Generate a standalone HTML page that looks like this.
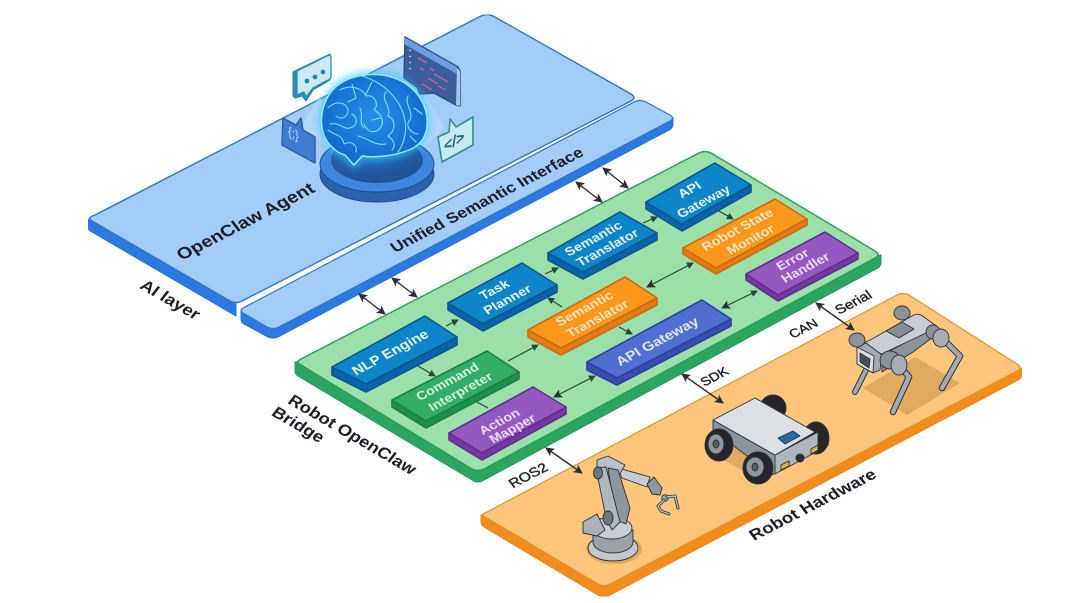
<!DOCTYPE html>
<html><head><meta charset="utf-8"><style>
html,body{margin:0;padding:0;background:#fff}
svg{display:block}
text{font-family:"Liberation Sans",sans-serif}
.w{fill:#e8f4fa;font-weight:700;font-size:12px;text-anchor:middle}
.k{fill:#1c1f26;font-weight:700;text-anchor:middle}
.a{stroke:#2a2f33;stroke-width:1.4;fill:none;marker-start:url(#m);marker-end:url(#m)}
.s{stroke:#24483a;stroke-width:1.2;fill:none;marker-end:url(#n)}
.g{stroke:#2c3138;stroke-width:.9;stroke-linejoin:round}
.l{fill:none;stroke-linecap:round;stroke-linejoin:round}
</style></head><body>
<svg width="1080" height="603" viewBox="0 0 1080 603" xmlns="http://www.w3.org/2000/svg">
<defs>
<marker id="m" markerWidth="10" markerHeight="10" refX="8" refY="4.5" orient="auto-start-reverse" markerUnits="userSpaceOnUse"><path d="M0 0L9 4.5L0 9L2 4.5Z" fill="#2a2f33"/></marker>
<marker id="n" markerWidth="8" markerHeight="8" refX="6" refY="3.5" orient="auto" markerUnits="userSpaceOnUse"><path d="M0 0L7 3.5L0 7Z" fill="#24483a"/></marker>
<filter id="glow" x="-30%" y="-30%" width="160%" height="160%"><feGaussianBlur stdDeviation="4"/></filter>
<filter id="soft" x="0" y="0" width="100%" height="100%"><feGaussianBlur stdDeviation=".35"/></filter>
<radialGradient id="br" cx=".5" cy=".45" r=".6"><stop offset="0" stop-color="#2390ea"/><stop offset="1" stop-color="#1464cc"/></radialGradient>
<radialGradient id="ped" cx=".4" cy=".25" r=".8"><stop offset="0" stop-color="#1f80d8"/><stop offset=".6" stop-color="#235ca6"/><stop offset="1" stop-color="#21508f"/></radialGradient>
</defs>
<g filter="url(#soft)">

<!-- AI plate -->
<path d="M88 219V227Q88 230 92 232L236 316V304Z" fill="#2b7ae2" stroke="#2a6fd0"/>
<path d="M95 215L481 16Q487 13 493 16L631 94Q637 98 631 101L242 301Q236 304 230 301L92 221Q86 218 95 215Z" fill="#a2cdf9" stroke="#2f74bf" stroke-width="1.4"/>
<!-- Strip -->
<path d="M241 310V319Q241 322 244 324L268 337Q273 339 278 337L669 130Q673 128 673 124V118Z" fill="#2b7ae2" stroke="#2a6fd0"/>
<path d="M243 308L634 102Q640 99 646 102L670 115Q675 118 670 121L279 327Q273 330 267 327L243 313Q239 310 243 308Z" fill="#a2cdf9" stroke="#2f74bf" stroke-width="1.2"/>

<!-- Green plate -->
<path d="M295 362V371Q295 374 298 376L472 480Q478 484 484 480L878 268Q881 266 881 262V255Z" fill="#2aa660" stroke="#26985a"/>
<path d="M301 359L699 153Q705 150 711 153L875 251Q881 255 875 258L484 469Q478 472 472 469L301 365Q295 362 301 359Z" fill="#9bdfa9" stroke="#2a9a5a" stroke-width="1.4"/>

<!-- Orange plate -->
<path d="M481 515V522Q481 525 484 527L598 595Q604 598 610 595L1018 380Q1022 378 1022 374V368Z" fill="#f28c1c" stroke="#ec861a"/>
<path d="M487 512L897 295Q903 292 909 295L1017 364Q1023 368 1017 371L610 584Q604 587 598 584L487 518Q478 515 487 512Z" fill="#fdc67c" stroke="#e8902a" stroke-width="1.2"/>

<!-- Beams -->
<path d="M320 95L300 128L345 160ZM425 95L445 128L410 160Z" fill="#c4e0fb" opacity=".5"/>

<!-- Pedestal -->
<ellipse cx="377" cy="174" rx="57" ry="28" fill="#2a62ae" stroke="#1d4d92"/>
<ellipse cx="377" cy="164" rx="57" ry="28" fill="#3f86dc" stroke="#1d4d92"/>
<ellipse cx="377" cy="160" rx="46" ry="23" fill="url(#ped)"/>

<!-- Icons -->
<path d="M297 70L330 54L330 80L313 90L306 101L302 96L295 98L293 96V72Z" fill="#2b8fb0" stroke="#2180a2" stroke-linejoin="round"/>
<path d="M297 71L327 56Q331 54 331 58V76Q331 79 328 80L313 88L306 97L304 92L297 95Z" fill="#cdeaf3" stroke="#2b8fb0" stroke-width="1.3" stroke-linejoin="round"/>
<circle cx="307" cy="81" r="2.4" fill="#2a7ec8"/><circle cx="315" cy="77" r="2.4" fill="#2a7ec8"/><circle cx="323" cy="72" r="2.4" fill="#2a7ec8"/>
<path d="M405 37L458 67L460 71V106L456 105L434 93L420 94L417 87L404 78Z" fill="#3c5c9a" stroke="#2a4a82" stroke-width="1.4" stroke-linejoin="round"/>
<path d="M457 68L460 71V106L456 105Z" fill="#a9c8ee"/>
<path d="M404 37L457 67V74L404 44Z" fill="#6c9fe0"/>
<path d="M418 58L427 63M420 68L424 70M430 68L434 71M434 74L448 82M428 78L438 84M422 84L432 90M438 86L446 90" stroke="#e060a0" stroke-width="1.2" fill="none"/>
<path d="M409 50L411 51M409 56L411 57M409 62L411 63M409 68L411 69" stroke="#b8d4f2" stroke-width="1.2"/>
<path d="M283 118L296 125L301 118L303 130L315 137V163L282 145Z" fill="#3f7bd0" stroke="#2a5ea8" stroke-width="1.5" stroke-linejoin="round"/>
<text x="0" y="0" transform="matrix(.88 .47 0 1 288 135)" font-size="13" fill="#bfe0ff" font-family="Liberation Mono">{;}</text>
<path d="M438 137L449 132L450 119L456 127L473 117V145L442 162Z" fill="#c5eaef" stroke="#2d918f" stroke-width="1.6" stroke-linejoin="round"/>
<text transform="matrix(.88 -.47 0 1 444 152)" font-size="16" font-weight="700" fill="#25607a" font-family="Liberation Mono">&lt;/&gt;</text>

<!-- Brain -->
<path d="M333 148C318 135 318 110 331 92C342 78 362 73 382 75C404 78 421 92 426 112C430 130 424 143 411 149C396 156 376 158 362 156L354 165L345 155C341 154 337 152 333 148Z" fill="#30c8ff" opacity=".75" stroke="#30c8ff" stroke-width="5" filter="url(#glow)"/>
<path d="M333 148C318 135 318 110 331 92C342 78 362 73 382 75C404 78 421 92 426 112C430 130 424 143 411 149C396 156 376 158 362 156L354 165L345 155C341 154 337 152 333 148Z" fill="url(#br)" stroke="#8ef0ff" stroke-width="1.5"/>
<g class="l" stroke="#74e6ff" stroke-width="1.1">
<path d="M362 76C382 82 398 96 404 116C408 130 404 144 398 152"/>
<path d="M328 108C336 100 346 102 348 110C348 118 340 120 336 116M330 124C340 122 344 130 350 128C358 126 358 118 352 114"/>
<path d="M340 90C350 84 362 88 366 96C374 94 380 104 374 110C382 114 386 124 378 130C372 134 366 130 364 124"/>
<path d="M328 130C336 136 342 134 344 144C352 140 358 146 356 152"/>
<path d="M352 84L356 98L348 102M372 82L366 94"/>
<path d="M386 92C380 100 392 106 388 116C396 120 396 130 388 136C394 140 396 146 392 150"/>
<path d="M408 96C404 104 414 112 410 120C404 126 412 134 418 134M414 108L422 114M416 142L410 136"/>
<path d="M358 136C368 138 374 146 386 144M360 108C364 116 358 122 364 128M372 120L380 118"/>
</g>

<!-- Boxes -->
<g stroke-linejoin="round" stroke-width="1.6">
<g stroke="#0b568f"><path d="M332 367V375L366 392L457 345V337L366 384Z" fill="#0a62ad"/><path d="M332 367L425 316L457 337L366 384Z" fill="#0f86c9"/></g>
<g stroke="#0b568f"><path d="M448 303V310L483 331L557 292V285L483 324Z" fill="#0a62ad"/><path d="M448 303L522 263L557 285L483 324Z" fill="#0f86c9"/></g>
<g stroke="#0b568f"><path d="M548 253V260L583 279L657 240V233L583 272Z" fill="#0a62ad"/><path d="M548 253L620 212L657 233L583 272Z" fill="#0f86c9"/></g>
<g stroke="#0b568f"><path d="M646 202V209L682 231L751 192V185L682 224Z" fill="#0a62ad"/><path d="M646 202L715 163L751 185L682 224Z" fill="#0f86c9"/></g>
<g stroke="#c96c10"><path d="M683 248V254L716 274L807 225V219L716 268Z" fill="#e47c12"/><path d="M683 248L775 199L807 219L716 268Z" fill="#fb981f"/></g>
<g stroke="#5f2f8e"><path d="M746 274V280L778 301L858 259V253L778 295Z" fill="#7439a3"/><path d="M746 274L825 232L858 253L778 295Z" fill="#9558c0"/></g>
<g stroke="#2f3f9f"><path d="M587 362V370L617 385L731 326V319L617 378Z" fill="#3a4cb0"/><path d="M587 362L702 300L731 319L617 378Z" fill="#5070d0"/></g>
<g stroke="#c96c10"><path d="M528 330V337L561 355L657 305V298L561 348Z" fill="#e47c12"/><path d="M528 330L625 277L657 298L561 348Z" fill="#fb981f"/></g>
<g stroke="#1b7f47"><path d="M392 400V407L426 428L519 379V372L426 421Z" fill="#1f8f50"/><path d="M392 400L487 351L519 372L426 421Z" fill="#30ad66"/></g>
<g stroke="#5f2f8e"><path d="M449 433V440L482 460L566 414V407L482 453Z" fill="#7439a3"/><path d="M449 433L533 387L566 407L482 453Z" fill="#9558c0"/></g>
</g>

<!-- Connectors -->
<line class="a" x1="359" y1="294" x2="385" y2="314"/>
<line class="a" x1="392" y1="278" x2="417" y2="297"/>
<line class="a" x1="576" y1="182" x2="602" y2="202"/>
<line class="a" x1="603" y1="168" x2="628" y2="188"/>
<line class="a" x1="546" y1="448" x2="582" y2="473"/>
<line class="a" x1="682" y1="374" x2="723" y2="403"/>
<line class="a" x1="816" y1="303" x2="854" y2="330"/>
<line class="s" x1="446" y1="326" x2="458" y2="320"/>
<line class="s" x1="545" y1="274" x2="558" y2="268"/>
<line class="s" x1="643" y1="223" x2="657" y2="217"/>
<line class="s" x1="719" y1="211" x2="733" y2="219"/>
<line class="s" x1="562" y1="307" x2="548" y2="298"/>
<line class="s" x1="418" y1="366" x2="435" y2="376"/>
<line class="s" x1="508" y1="361" x2="538" y2="345"/>
<line class="s" x1="477" y1="402" x2="488" y2="408" style="marker-end:none"/>
<line class="s" x1="619" y1="327" x2="632" y2="334"/>
<line class="s" x1="554" y1="397" x2="595" y2="376" style="marker-start:url(#m)"/>
<line class="s" x1="647" y1="287" x2="693" y2="263" style="marker-start:url(#m)"/>
<line class="s" x1="722" y1="308" x2="757" y2="291" style="marker-start:url(#m)"/>

<!-- Box labels -->
<text class="w" transform="matrix(.88 -.47 .55 .72 393 356)" style="font-size:15px">NLP Engine</text>
<text class="w" transform="matrix(.88 -.47 .55 .72 497 293)" style="font-size:14px">Task</text>
<text class="w" transform="matrix(.88 -.47 .55 .72 510 303)" style="font-size:14px">Planner</text>
<text class="w" transform="matrix(.88 -.47 .55 .72 596 242)" style="font-size:14px">Semantic</text>
<text class="w" transform="matrix(.88 -.47 .55 .72 610 251)" style="font-size:14px">Translator</text>
<text class="w" transform="matrix(.88 -.47 .55 .72 692 193)" style="font-size:14px">API</text>
<text class="w" transform="matrix(.88 -.47 .55 .72 706 205)" style="font-size:14px">Gateway</text>
<text class="w" transform="matrix(.88 -.47 .55 .72 740 233)" style="font-size:14px;fill:#fde6c4">Robot State</text>
<text class="w" transform="matrix(.88 -.47 .55 .72 753 243)" style="font-size:14px;fill:#fde6c4">Monitor</text>
<text class="w" transform="matrix(.88 -.47 .55 .72 795 263)" style="font-size:14px;fill:#ecdcf6">Error</text>
<text class="w" transform="matrix(.88 -.47 .55 .72 808 271)" style="font-size:14px;fill:#ecdcf6">Handler</text>
<text class="w" transform="matrix(.88 -.47 .55 .72 660 345)" style="font-size:15px;fill:#dfe6fa">API Gateway</text>
<text class="w" transform="matrix(.88 -.47 .55 .72 587 312)" style="font-size:14px;fill:#fde6c4">Semantic</text>
<text class="w" transform="matrix(.88 -.47 .55 .72 600 322)" style="font-size:14px;fill:#fde6c4">Translator</text>
<text class="w" transform="matrix(.88 -.47 .55 .72 450 385)" style="font-size:14px;fill:#d8f2e2">Command</text>
<text class="w" transform="matrix(.88 -.47 .55 .72 463 395)" style="font-size:14px;fill:#d8f2e2">Interpreter</text>
<text class="w" transform="matrix(.88 -.47 .55 .72 502 425)" style="font-size:14px;fill:#ecdcf6">Action</text>
<text class="w" transform="matrix(.88 -.47 .55 .72 515 432)" style="font-size:14px;fill:#ecdcf6">Mapper</text>

<!-- Plate labels -->
<text class="k" transform="matrix(.89 -.46 .55 .72 249 226)" style="font-size:19px">OpenClaw Agent</text>
<text class="k" transform="matrix(.89 -.46 .55 .72 490 204)" style="font-size:17px">Unified Semantic Interface</text>
<text class="k" transform="matrix(.87 .5 -.55 .72 167 304)" style="font-size:18px">AI layer</text>
<text class="k" transform="matrix(.86 .5 -.55 .72 349 439)" style="font-size:18px">Robot OpenClaw</text>
<text class="k" transform="matrix(.86 .5 -.55 .72 295 429)" style="font-size:18px">Bridge</text>
<text class="k" transform="matrix(.89 -.46 .55 .72 816 509)" style="font-size:18px">Robot Hardware</text>
<text class="k" transform="matrix(.89 -.46 .55 .72 531 479)" style="font-size:15px;font-weight:400;stroke:#1c1f26;stroke-width:.4">ROS2</text>
<text class="k" transform="matrix(.89 -.46 .55 .72 717 380)" style="font-size:14px;font-weight:400;stroke:#1c1f26;stroke-width:.4">SDK</text>
<text class="k" transform="matrix(.89 -.46 .55 .72 806 332)" style="font-size:14px;font-weight:400;stroke:#1c1f26;stroke-width:.4">CAN</text>
<text class="k" transform="matrix(.89 -.46 .55 .72 856 306)" style="font-size:15px;font-weight:400;stroke:#1c1f26;stroke-width:.4">Serial</text>

<!-- Dog -->
<path d="M863 388L915 357L960 383L907 415Z" fill="#dfa961"/>
<g class="g">
<ellipse cx="902" cy="313" rx="8" ry="7" fill="#8c9299"/>
<path class="l" d="M866 370L855 392" stroke="#2c3138" stroke-width="6"/>
<path class="l" d="M866 370L855 392" stroke="#a3aab1" stroke-width="4"/>
<path class="l" d="M897 363L909 377L893 412" stroke="#2c3138" stroke-width="6.5"/>
<path class="l" d="M897 363L909 377L893 412" stroke="#a3aab1" stroke-width="4.5"/>
<path class="l" d="M942 338L960 356L942 388" stroke="#2c3138" stroke-width="6.5"/>
<path class="l" d="M942 338L960 356L942 388" stroke="#a3aab1" stroke-width="4.5"/>
<path d="M882 355L933 328V337L913 352L903 358L882 372Z" fill="#8f959c"/>
<path d="M872 339L912 316Q917 313 921 315L935 325L928 332L890 350L882 354L860 345Z" fill="#c8ced4"/>
<path d="M886 331L902 322L914 329L899 338Z" fill="#868c93"/>
<path d="M857 347L866 343L882 355L880 370L873 373L857 364Z" fill="#a3aab1"/>
<path d="M857 347L874 356L873 373L857 364Z" fill="#dce0e4"/>
<path d="M860 353L870 359L869 368L860 362Z" fill="#4b5056"/>
<ellipse cx="857" cy="340" rx="8" ry="7" fill="#8c9299"/>
<ellipse cx="890" cy="360" rx="10" ry="9" fill="#8c9299"/>
<ellipse cx="899" cy="365" rx="8" ry="10" fill="#a6adb4"/>
<ellipse cx="933" cy="332" rx="7" ry="7" fill="#8c9299"/>
<ellipse cx="941" cy="338" rx="8" ry="9" fill="#a6adb4"/>
</g>

<!-- Rover -->
<path d="M706 450L760 480L830 445L770 410Z" fill="#e0a862"/>
<g class="g">
<ellipse cx="773" cy="408" rx="13" ry="13" fill="#25282c"/>
<ellipse cx="816" cy="438" rx="13" ry="16" fill="#25282c"/>
<path d="M713 420V430L772 475L817 450V432L775 455Z" fill="#8b939b"/>
<path d="M775 455V474L818 451V432Z" fill="#aeb5bc"/>
<path d="M713 420L755 398L815 432L775 455Z" fill="#dce0e5"/>
<path d="M778 438L793 431L800 436L785 444Z" fill="#246aa8"/>
<circle cx="800" cy="458" r="4" fill="#2a2d31"/>
<path d="M781 465L789 461V466L781 470ZM811 449L818 445V450L811 454Z" fill="#e6b04a"/>
<ellipse cx="719" cy="445" rx="14" ry="16" fill="#25282c"/>
<ellipse cx="716" cy="444" rx="8" ry="10" fill="#8f969d"/>
<ellipse cx="716" cy="444" rx="3" ry="4" fill="#555b62"/>
<ellipse cx="758" cy="468" rx="15" ry="16" fill="#25282c"/>
<ellipse cx="755" cy="467" rx="9" ry="10" fill="#8f969d"/>
<ellipse cx="755" cy="467" rx="3" ry="4" fill="#555b62"/>
</g>

<!-- Arm -->
<ellipse cx="614" cy="549" rx="28" ry="15" fill="#dfa961"/>
<g class="g">
<ellipse cx="613" cy="548" rx="25" ry="13" fill="#c1c7cd"/>
<path d="M593 530V542A20 11 0 0 0 633 542V530Z" fill="#9aa1a8"/>
<ellipse cx="612" cy="528" rx="20" ry="11" fill="#c8ced4"/>
<path d="M583 522L597 514L605 530L597 536L583 533Z" fill="#aab1b8"/>
<path d="M618 468L650 477L647 487L622 478Z" fill="#c6ccd2"/>
<path d="M597 460L608 456L625 465L618 477L597 468Z" fill="#b9c0c7"/>
<path d="M608 468L618 470L630 508L626 524L616 520Z" fill="#8e959c"/>
<path d="M596 468L606 467L620 522L612 530L606 518Z" fill="#b0b7be"/>
<path d="M647 484L654 477L662 488L660 495L652 494Z" fill="#8e959c"/>
<ellipse cx="598" cy="473" rx="4.5" ry="6" fill="#6e747b"/>
<ellipse cx="608" cy="518" rx="5" ry="7" fill="#6e747b"/>
<circle cx="665" cy="498" r="3.2" fill="#a6adb4"/>
</g>
<path class="l" d="M664 500L658 506L661 511L669 514M667 497L675 496L678 508" stroke="#2c3138" stroke-width="3"/>
<path class="l" d="M664 500L658 506L661 511L669 514M667 497L675 496L678 508" stroke="#bcc3ca" stroke-width="1.4"/>
</g>
</svg>
</body></html>
